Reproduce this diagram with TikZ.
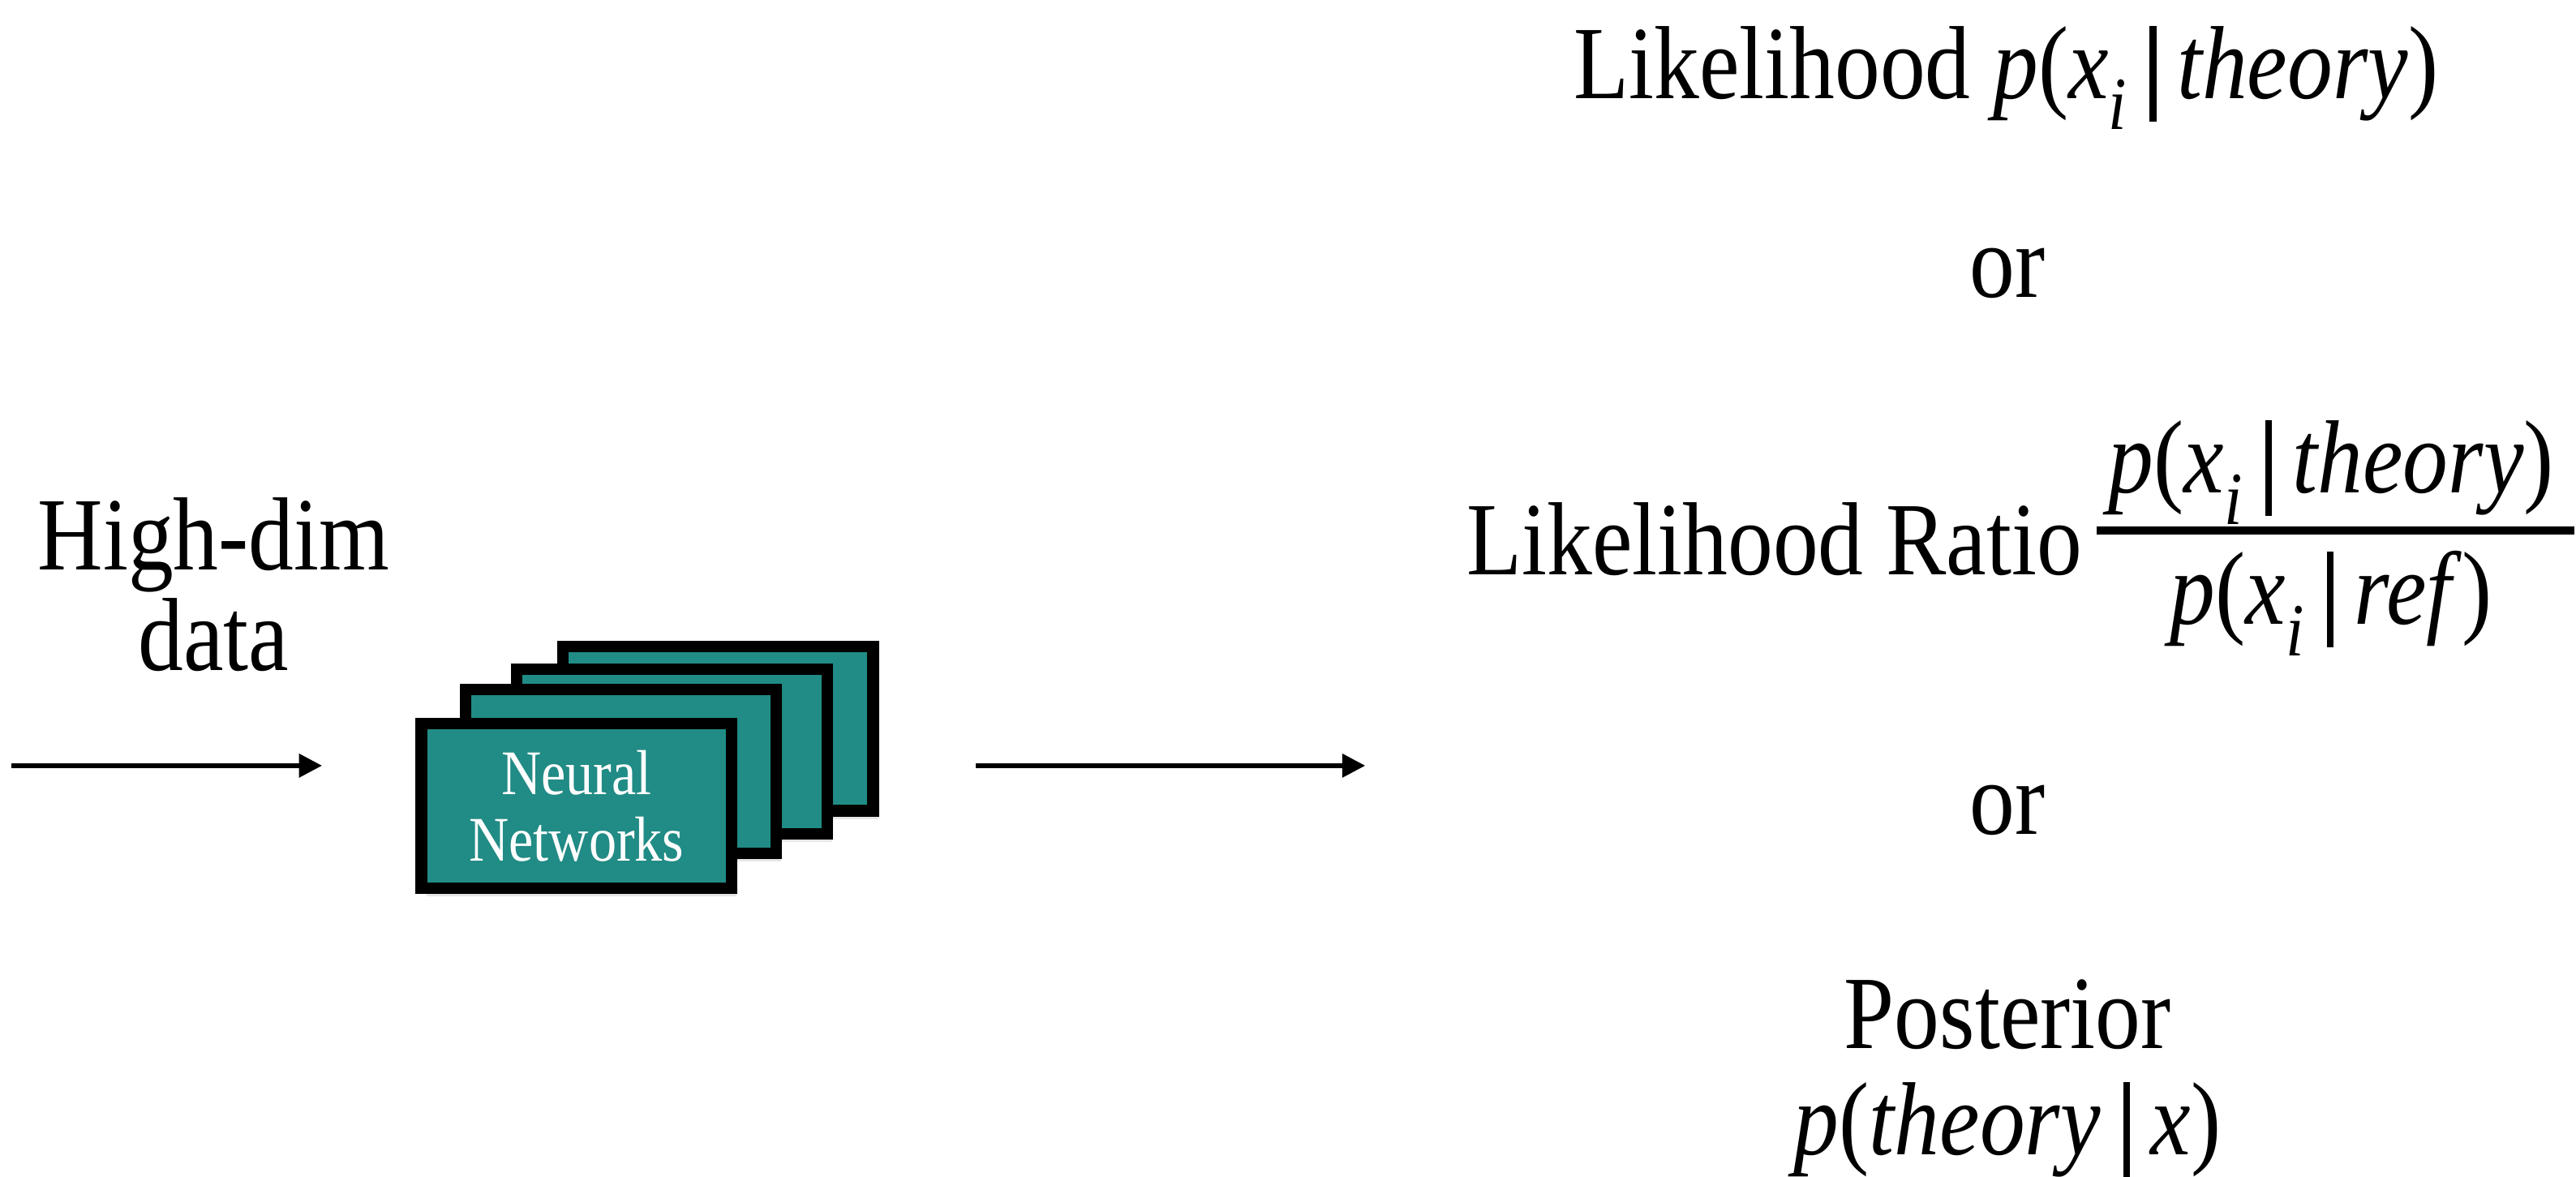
\documentclass[tikz,border=0pt]{standalone}
\usepackage{fontspec}
\setmainfont{Liberation Serif}[FakeStretch=0.87]
\usepackage{tikz}
\usetikzlibrary{arrows.meta,positioning,shadows}

\definecolor{nnteal}{RGB}{33,139,133}

% p(a | b) written in text italics, with a heavy bar and a low index
\newcommand{\given}{\hspace{0.22em}\rule[-0.22em]{0.065em}{0.92em}\hspace{0.2em}}
\newcommand{\idx}[1]{\raisebox{-0.3em}{\fontsize{13}{13}\selectfont\textit{#1}}}
\newcommand{\condp}[2]{\textit{p}(\textit{#1}\given\textit{#2})}

\begin{document}
\begin{tikzpicture}
[
big/.style={inner sep=0pt, anchor=base, font=\fontsize{18}{18}\selectfont},
netbox/.style={rectangle, draw=black, line width=0.7mm, fill=nnteal, minimum width=18.9mm, minimum height=10mm,
  drop shadow={shadow xshift=0.3mm, shadow yshift=-0.5mm, opacity=0.2}},
netlabel/.style={text=white, align=center, font=\fontsize{11}{11.6}\selectfont},
flow/.style={-{Triangle[length=1.4mm,width=1.4mm]}, line width=0.27mm}
]
\useasboundingbox (0,0) rectangle (15.68,7.16);

%Nodes
\node[big]              (high)      at (1.30,3.69)      {High-dim};
\node[big]              (data)      at (1.30,3.08)      {data};

\node[netbox]           (net4)      at (4.37,2.725)     {};
\node[netbox]           (net3)      at (4.09,2.585)     {};
\node[netbox]           (net2)      at (3.78,2.465)     {};
\node[netbox, netlabel] (net1)      at (3.51,2.255)     {Neural\\Networks};

\node[big]              (like)      at (12.21,6.56)     {Likelihood \condp{x\idx{i}}{theory}};
\node[big]              (or1)       at (12.22,5.35)     {or};
\node[big, anchor=base east] (ratio) at (12.68,3.66)    {Likelihood Ratio};
\node[fill=black, inner sep=0pt, minimum width=29.1mm, minimum height=0.5mm] (bar) at (14.215,3.93) {};
\node[big]              (num)       at (14.19,4.16)     {\condp{x\idx{i}}{theory}};
\node[big]              (den)       at (14.19,3.36)     {\condp{x\idx{i}}{ref\/}};
\node[big]              (or2)       at (12.22,2.08)     {or};
\node[big]              (post)      at (12.22,0.78)     {Posterior};
\node[big]              (postp)     at (12.22,0.13)     {\condp{theory}{x}};

\coordinate (in)  at (0.07,2.50);
\coordinate (out) at (8.31,2.50);

%Lines
\draw[flow, shorten >=5.7mm] (in) -- (in -| net1.west);
\draw[flow, shorten <=5.9mm] (net4.east |- in) -- (out);
\end{tikzpicture}
\end{document}
